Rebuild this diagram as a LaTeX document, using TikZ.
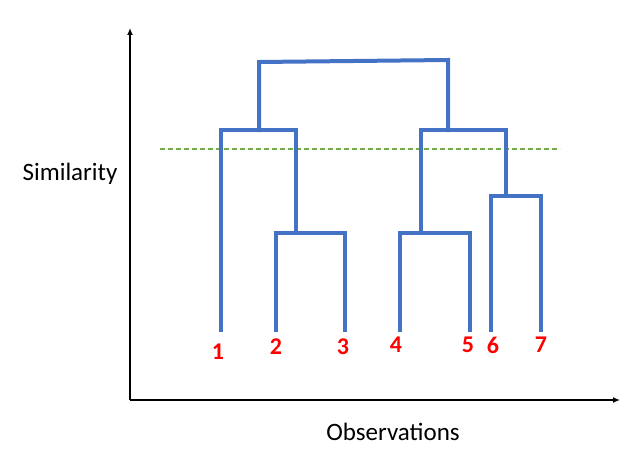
\documentclass[tikz,border=0pt]{standalone}
\usepackage{fontspec}
\setmainfont{Carlito}
\usetikzlibrary{arrows.meta}
\definecolor{dblue}{HTML}{4472C4}
\definecolor{dgreen}{HTML}{70AD47}
\tikzset{br/.style={draw=dblue,line width=4pt,line cap=rect},
 lab/.style={text=red,font=\fontsize{24}{26}\selectfont\bfseries},
 ax/.style={line width=1.3pt,-{Latex[length=7pt,width=6pt]}},
 axt/.style={font=\fontsize{25}{28}\selectfont}}
\begin{document}
\begin{tikzpicture}[x=1pt,y=-1pt]
\useasboundingbox (0,0) rectangle (624,452);
\coordinate (o) at (130,400);
\coordinate (ye) at (130,28);
\coordinate (xe) at (620,400);
\draw[ax] (o) -- (ye);
\draw[ax] (o) -- (xe);
\coordinate (g1) at (160,149); \coordinate (g2) at (560,149);
\draw[dgreen,dashed,line width=1.2pt,dash pattern=on 5pt off 3pt] (g1) -- (g2);
\draw[br] (221,330) -- (221,130) -- (296,130) -- (296,233);
\draw[br] (276,330) -- (276,233) -- (345,233) -- (345,330);
\draw[br] (400,330) -- (400,233) -- (470,233) -- (470,330);
\draw[br] (491,330) -- (491,196) -- (541,196) -- (541,330);
\draw[br] (421,233) -- (421,130) -- (506,130) -- (506,196);
\draw[br] (259,130) -- (259,62) -- (448,60) -- (448,130);
\node[lab] (l1) at (218,352) {1};
\node[lab] (l2) at (276,347) {2};
\node[lab] (l3) at (343,347) {3};
\node[lab] (l4) at (396,345) {4};
\node[lab] (l5) at (468,345) {5};
\node[lab] (l6) at (493,345) {6};
\node[lab] (l7) at (541,345) {7};
\node[axt] (sim) at (70,174) {Similarity};
\node[axt] (obs) at (393,432) {Observations};
\end{tikzpicture}
\end{document}
